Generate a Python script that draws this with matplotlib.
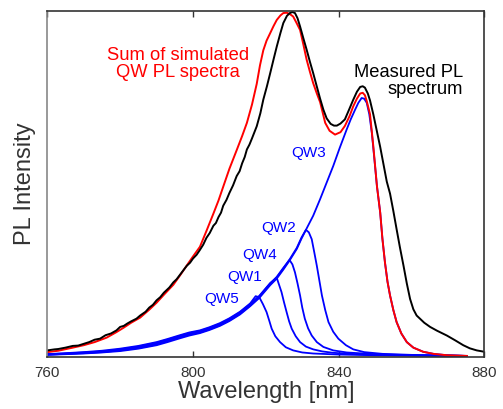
import numpy as np
import matplotlib
matplotlib.use("Agg")
import matplotlib.pyplot as plt

plt.rcParams['font.family'] = ['Liberation Sans', 'DejaVu Sans']

# measured PL spectrum (black)
meas_wl = [760, 762, 763, 765, 767, 768.5, 770, 771.5, 773, 774.5, 776, 777.5, 779, 780, 781,
           782, 783, 784.5, 785.5, 787, 788, 789, 790, 791, 792, 793.5, 794.6, 795.5, 796.5,
           797.5, 798.3, 799.2, 800, 801, 801.9, 802.8, 803.7, 804.6, 805.6, 806.3, 807,
           807.7, 808.3, 809.2, 810, 811, 812, 812.8, 813.5, 814.2, 814.8, 815.5, 816.2,
           817.5, 818.5, 819.3, 820.3, 821.2, 822.1, 823.0, 824, 824.8, 825.8, 826.6, 827.3,
           828.0, 828.7, 829.4, 830.3, 831.2, 832.1, 833.0, 834, 834.9, 835.8, 836.7, 837.8,
           838.7, 839.5, 840.5, 841.7, 842.8, 844.0, 845, 845.9, 846.6, 847.2, 848, 848.6,
           849.5, 850.5, 851.4, 852.3, 853.2, 854.1, 855, 855.9, 856.8, 857.8, 858.7, 859.6,
           860.5, 861.4, 862.3, 863.5, 865.1, 867, 869.7, 872, 874.2, 876, 877.9, 880]
meas_pl = [0.016, 0.019, 0.020, 0.024, 0.029, 0.030, 0.035, 0.040, 0.047, 0.050, 0.060, 0.065,
           0.074, 0.084, 0.087, 0.094, 0.100, 0.108, 0.117, 0.128, 0.140, 0.148, 0.161, 0.170,
           0.183, 0.198, 0.213, 0.222, 0.236, 0.250, 0.261, 0.270, 0.282, 0.293, 0.307, 0.322,
           0.342, 0.356, 0.377, 0.385, 0.402, 0.415, 0.435, 0.452, 0.472, 0.494, 0.521, 0.535,
           0.558, 0.576, 0.598, 0.612, 0.630, 0.665, 0.703, 0.742, 0.781, 0.819, 0.858, 0.896,
           0.935, 0.964, 0.985, 0.993, 0.996, 0.993, 0.978, 0.954, 0.920, 0.887, 0.852, 0.819,
           0.780, 0.745, 0.713, 0.688, 0.672, 0.667, 0.667, 0.673, 0.685, 0.712, 0.742, 0.765,
           0.779, 0.781, 0.777, 0.760, 0.740, 0.700, 0.650, 0.605, 0.555, 0.505, 0.470, 0.420,
           0.367, 0.315, 0.261, 0.210, 0.165, 0.135, 0.117, 0.108, 0.096, 0.084, 0.073, 0.059,
           0.045, 0.031, 0.022, 0.016, 0.012]

# sum of simulated QW PL spectra (red)
sum_wl = [760, 763, 767, 770, 773, 776.3, 779, 781, 783, 785.5, 788, 790, 792, 794.6, 796.5,
          798.3, 800, 801.9, 803.7, 805.6, 807, 808.3, 810, 812, 813.5, 814.8, 816.2, 817.5,
          818.4, 819.3, 820.2, 821.2, 822.1, 823.0, 824, 824.8, 825.7, 826.6, 827.5, 828.4,
          829.4, 830.3, 831.2, 832.1, 833.0, 834, 834.9, 836.3, 837.5, 839, 840.5, 841.7, 843,
          844, 845, 845.9, 846.6, 847.2, 847.7, 848.6, 849.5, 850.5, 851.4, 852.0, 852.7,
          853.4, 854.1, 855, 855.9, 857.2, 858.7, 860.5, 863.2, 866, 869.7, 875.2]
sum_pl = [0.011, 0.015, 0.024, 0.031, 0.040, 0.053, 0.069, 0.082, 0.096, 0.111, 0.134, 0.154,
          0.177, 0.206, 0.234, 0.262, 0.288, 0.316, 0.362, 0.412, 0.450, 0.490, 0.542, 0.596,
          0.637, 0.675, 0.728, 0.788, 0.842, 0.885, 0.913, 0.935, 0.955, 0.973, 0.986, 0.993,
          0.994, 0.990, 0.983, 0.965, 0.944, 0.902, 0.858, 0.823, 0.790, 0.760, 0.735, 0.675,
          0.652, 0.641, 0.648, 0.666, 0.695, 0.723, 0.745, 0.760, 0.762, 0.755, 0.738, 0.700,
          0.608, 0.492, 0.415, 0.340, 0.271, 0.215, 0.175, 0.133, 0.098, 0.065, 0.040, 0.024,
          0.012, 0.006, 0.002, 0.0]

# simulated single-QW spectra (blue)
qw3_wl = [760, 765, 770, 775, 780, 785, 790, 793, 796.4, 799, 801.9, 804.5, 807.4, 810, 812.9,
          815.7, 818.2, 821.2, 823.0, 824.8, 826.5, 828.5, 829.8, 831.0, 833.0, 834.9, 836.7,
          838.5, 840.3, 842.2, 843.3, 844.5, 845.4, 846.3, 847.0, 847.7, 848.4, 849.1, 849.8,
          850.5, 851.4, 852.0, 852.7, 853.4, 854.1, 855, 855.9, 857.2, 858.7, 860.5, 863.2,
          866, 869.7, 875.2]
qw3_pl = [0.003, 0.005, 0.007, 0.010, 0.014, 0.021, 0.031, 0.040, 0.051, 0.059, 0.066, 0.075,
          0.087, 0.101, 0.120, 0.144, 0.168, 0.205, 0.224, 0.250, 0.276, 0.310, 0.340, 0.365,
          0.406, 0.454, 0.502, 0.550, 0.603, 0.656, 0.685, 0.713, 0.733, 0.747, 0.745, 0.733,
          0.700, 0.646, 0.570, 0.492, 0.415, 0.340, 0.271, 0.215, 0.175, 0.133, 0.098, 0.065,
          0.040, 0.024, 0.012, 0.006, 0.002, 0.0]

qw2_wl = [760, 765, 770, 775, 780, 785, 790, 793, 796.4, 799, 801.9, 804.5, 807.4, 810, 812.9,
          815.7, 818.2, 821.2, 823.0, 824.8, 826.5, 828.5, 829.8, 831.0, 831.8, 832.6, 833.3,
          834.0, 834.7, 835.4, 836.3, 837.2, 838.5, 839.9, 842, 844.0, 847, 852, 860, 875]
qw2_pl = [0.004, 0.006, 0.008, 0.011, 0.016, 0.023, 0.033, 0.043, 0.054, 0.062, 0.068, 0.077,
          0.089, 0.103, 0.122, 0.146, 0.170, 0.208, 0.227, 0.253, 0.279, 0.313, 0.343, 0.365,
          0.358, 0.338, 0.300, 0.261, 0.218, 0.175, 0.133, 0.098, 0.070, 0.050, 0.031, 0.019,
          0.011, 0.006, 0.003, 0.0]

qw4_wl = [760, 765, 770, 775, 780, 785, 790, 793, 796.4, 799, 801.9, 804.5, 807.4, 810, 812.9,
          815.7, 818.2, 821.2, 823.0, 824.8, 826.5, 827.3, 828.0, 828.7, 829.4, 830.0, 830.7,
          831.6, 832.6, 834, 835.8, 838.5, 842.2, 850, 860, 875]
qw4_pl = [0.004, 0.006, 0.009, 0.012, 0.017, 0.025, 0.036, 0.045, 0.056, 0.064, 0.070, 0.079,
          0.091, 0.105, 0.124, 0.148, 0.172, 0.210, 0.229, 0.255, 0.278, 0.265, 0.242, 0.210,
          0.175, 0.140, 0.108, 0.080, 0.059, 0.040, 0.026, 0.016, 0.010, 0.005, 0.002, 0.0]

qw1_wl = [760, 765, 770, 775, 780, 785, 790, 793, 796.4, 799, 801.9, 804.5, 807.4, 810, 812.9,
          815.7, 818.2, 821.2, 823.0, 824.3, 825.0, 825.7, 826.4, 827.1, 828.2, 829.4, 831,
          833, 835.5, 838.5, 845, 855, 875]
qw1_pl = [0.005, 0.007, 0.010, 0.013, 0.019, 0.027, 0.038, 0.047, 0.058, 0.066, 0.072, 0.081,
          0.093, 0.107, 0.126, 0.150, 0.174, 0.211, 0.226, 0.185, 0.155, 0.127, 0.100, 0.079,
          0.057, 0.040, 0.027, 0.019, 0.013, 0.009, 0.005, 0.002, 0.0]

qw5_wl = [760, 765, 770, 775, 780, 785, 790, 793, 796.4, 799, 801.9, 804.5, 807.4, 810, 812.9,
          815.7, 817.2, 818.2, 819.2, 820.2, 821.0, 821.6, 822.6, 823.9, 825.5, 827.5, 830,
          833, 840, 850, 875]
qw5_pl = [0.005, 0.008, 0.011, 0.015, 0.021, 0.029, 0.040, 0.049, 0.060, 0.068, 0.074, 0.083,
          0.095, 0.109, 0.128, 0.152, 0.173, 0.170, 0.150, 0.127, 0.100, 0.079, 0.057, 0.040,
          0.025, 0.016, 0.010, 0.007, 0.004, 0.002, 0.0]

qw_labels = ["QW3", "QW2", "QW4", "QW1", "QW5"]
qw_label_x = [827.1, 818.7, 813.5, 809.3, 803.0]
qw_label_y = [0.589, 0.370, 0.293, 0.228, 0.165]

fig = plt.figure(figsize=(5.03, 4.09), dpi=100)
ax = fig.add_axes([0.094, 0.1264, 0.869, 0.8476])

blue = "#0000ff"
for wl, pl in [(qw5_wl, qw5_pl), (qw1_wl, qw1_pl), (qw4_wl, qw4_pl), (qw2_wl, qw2_pl), (qw3_wl, qw3_pl)]:
    ax.plot(wl, pl, color=blue, lw=1.3)
ax.plot(sum_wl, sum_pl, color="#ff0000", lw=1.4)
ax.plot(meas_wl, meas_pl, color="black", lw=1.4)

for lab, x, y in zip(qw_labels, qw_label_x, qw_label_y):
    ax.text(x, y, lab, color=blue, fontsize=11, ha="left", va="center")

ax.text(795.9, 0.846, "Sum of simulated\nQW PL spectra", color="#ff0000", fontsize=13.2,
        ha="center", va="center", linespacing=1.0)
ax.text(874.2, 0.797, "Measured PL\nspectrum", color="black", fontsize=13.2,
        ha="right", va="center", linespacing=1.0, multialignment="right")

ax.set_xlim(760, 880)
ax.set_ylim(-0.004, 1.0)
ax.set_xticks([760, 800, 840, 880])
ax.set_yticks([])
ax.tick_params(axis="x", direction="in", top=True, length=4, width=1, colors="#333333",
               labelsize=11, labelcolor="#333333", pad=6)
ax.set_xlabel("Wavelength [nm]", fontsize=17, color="#333333", labelpad=1)
ax.set_ylabel("PL Intensity", fontsize=17, color="#333333", labelpad=8)

for side in ["top", "bottom", "right"]:
    ax.spines[side].set_color("#333333")
    ax.spines[side].set_linewidth(1.2)
ax.spines["left"].set_color("#888888")
ax.spines["left"].set_linewidth(1.2)

fig.savefig("out.png", dpi=100)
